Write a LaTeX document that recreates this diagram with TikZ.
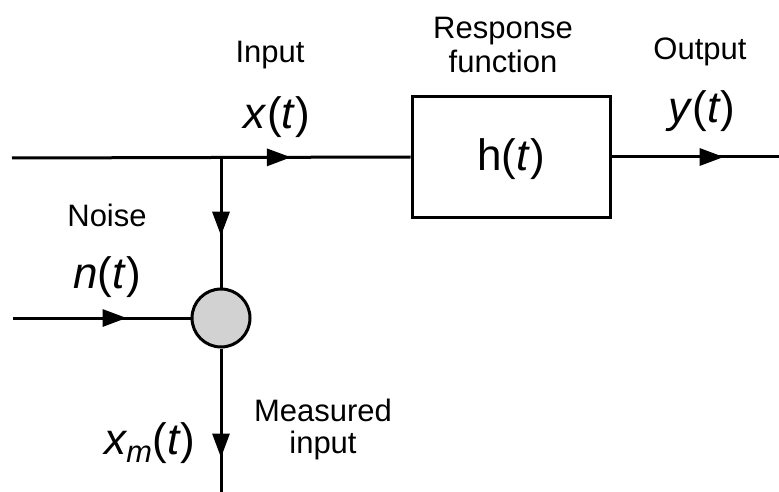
\documentclass[tikz,border=0pt]{standalone}
\usepackage{fontspec}
\setmainfont{Liberation Sans}
\usetikzlibrary{arrows.meta,decorations.markings}
\tikzset{
  wire/.style={line width=3pt},
  midtip/.style={postaction={decorate},decoration={markings,
     mark=at position #1 with {\arrow{Triangle[length=24pt,width=17pt]}}}},
  lbl/.style={inner sep=0pt,font=\fontsize{31}{34}\selectfont,align=center},
  sig/.style={inner sep=0pt,font=\fontsize{44}{48}\selectfont},
}
\begin{document}
\begin{tikzpicture}[x=1pt,y=-1pt]
\useasboundingbox (0,0) rectangle (779,492);
\coordinate (in) at (12,158);
\coordinate (j) at (221,158);
\coordinate (out) at (779,157);
\coordinate (nin) at (13,318);
\coordinate (mout) at (221,492);
\node[draw,line width=3pt,minimum width=198pt,minimum height=120pt,inner sep=0pt] (box) at (511,157) {};
\node[sig] (h) at (511,159) {h(\textit{t})};
\node[circle,draw,line width=3pt,fill=gray!35,minimum size=58pt,inner sep=0pt] (sum) at (221,318) {};
\draw[wire,midtip=0.70] (in) -- (box.west);
\draw[wire,midtip=0.67] (box.east) -- (out);
\draw[wire,midtip=0.6] (j) -- (sum.north);
\draw[wire,midtip=0.64] (nin) -- (sum.west);
\draw[wire,midtip=0.76] (sum.south) -- (mout);
\node[lbl] (tin) at (270,55) {Input};
\node[sig] (x) at (277,117) {\textit{x}(\textit{t})};
\node[lbl] (tresp) at (503,45) {Response\\function};
\node[lbl] (tout) at (700,52) {Output};
\node[sig] (y) at (702,111) {\textit{y}(\textit{t})};
\node[lbl] (tnoise) at (107,215) {Noise};
\node[sig] (n) at (107,277) {\textit{n}(\textit{t})};
\node[sig] (xm) at (150,443) {\textit{x\textsubscript{m}}(\textit{t})};
\node[lbl] (tmeas) at (323,429) {Measured\\[-2pt]input};
\end{tikzpicture}
\end{document}
